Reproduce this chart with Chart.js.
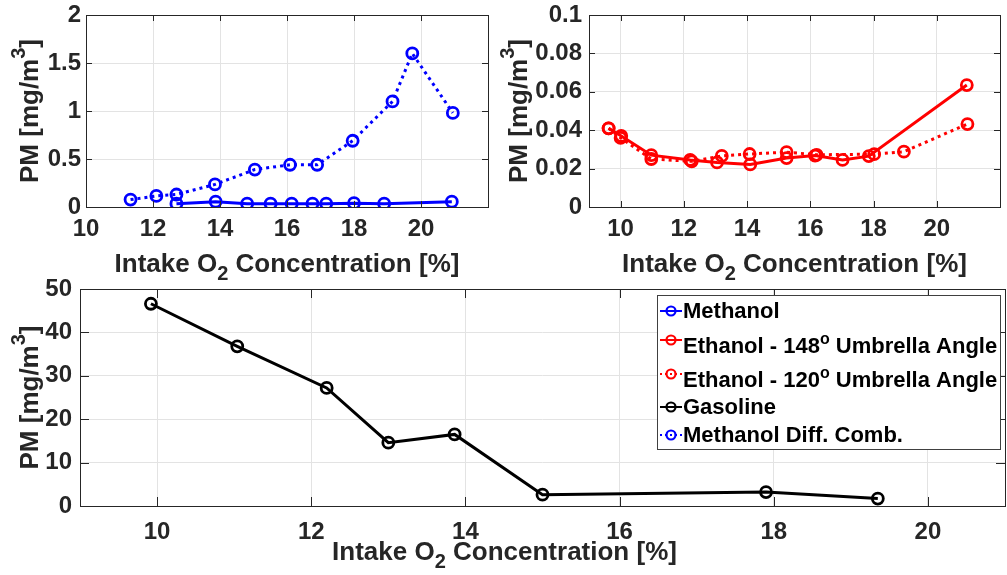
<!DOCTYPE html>
<html>
<head>
<meta charset="utf-8">
<title>PM vs intake O2 concentration</title>
<script src="https://cdn.jsdelivr.net/npm/chart.js@4.4.1/dist/chart.umd.min.js"></script>
<style>
  body { margin: 0; background: #fff; overflow: hidden; }
  .pane { position: absolute; }
  .pane canvas { display: block; }
</style>
</head>
<body>
<div class="pane" style="left:0;top:0"><canvas id="pmMethanol" width="495" height="290"></canvas></div>
<div class="pane" style="left:495px;top:0"><canvas id="pmEthanol" width="512" height="290"></canvas></div>
<div class="pane" style="left:0;top:265px"><canvas id="pmGasoline" width="1007" height="310"></canvas></div>
<script>
// values
const methanolO2 = [12.7, 13.87, 14.81, 15.51, 16.14, 16.76, 17.17, 18.0, 18.9, 20.92];
const methanolPM = [0.035, 0.055, 0.035, 0.035, 0.035, 0.035, 0.035, 0.04, 0.035, 0.055];

const methDiffO2 = [11.33, 12.1, 12.7, 13.85, 15.04, 16.09, 16.9, 17.96, 19.15, 19.74, 20.95];
const methDiffPM = [0.077, 0.115, 0.13, 0.235, 0.39, 0.44, 0.44, 0.69, 1.10, 1.60, 0.98];

const eth148O2 = [9.62, 10.02, 10.97, 12.2, 13.05, 14.1, 15.25, 16.15, 17.02, 17.85, 20.95];
const eth148PM = [0.041, 0.037, 0.027, 0.0245, 0.0232, 0.0222, 0.0255, 0.0268, 0.0245, 0.0265, 0.0635];

const eth120O2 = [9.62, 10.0, 10.97, 12.25, 13.2, 14.08, 15.25, 16.2, 18.02, 18.96, 20.97];
const eth120PM = [0.041, 0.036, 0.025, 0.0238, 0.0266, 0.0276, 0.0286, 0.0272, 0.0275, 0.0288, 0.0432];

const gasolineO2 = [9.92, 11.04, 12.2, 13.0, 13.86, 15.0, 17.9, 19.35];
const gasolinePM = [46.6, 36.8, 27.2, 14.6, 16.5, 2.6, 3.2, 1.7];

const xTicks = [10, 12, 14, 16, 18, 20];
const yTicksMethanol = [0, 0.5, 1, 1.5, 2];
const yTicksEthanol = [0, 0.02, 0.04, 0.06, 0.08, 0.1];
const yTicksGasoline = [0, 10, 20, 30, 40, 50];

// title / legend text, [text, baseline shift] pieces
const xTitle = [['Intake O', 0], ['2', 8], [' Concentration [%]', 0]];
const yTitle = [['PM [mg/m', 0], ['3', -13], [']', 0]];
const legendLabels = [
  [['Methanol', 0]],
  [['Ethanol - 148', 0], ['o', -9], [' Umbrella Angle', 0]],
  [['Ethanol - 120', 0], ['o', -9], [' Umbrella Angle', 0]],
  [['Gasoline', 0]],
  [['Methanol Diff. Comb.', 0]]
];

const FONT = '"Liberation Sans", Arial, Helvetica, sans-serif';
const INK = '#262626';
const BLUE = '#0000ff', RED = '#ff0000', BLACK = '#000000';

function series(label, xs, ys, color, dotted) {
  return {
    label: label,
    data: xs.map((x, i) => ({ x: x, y: ys[i] })),
    borderColor: color,
    borderWidth: 3,
    borderDash: dotted ? [3, 4] : [],
    pointRadius: 5.5,
    pointBorderWidth: 2.8,
    pointBorderColor: color,
    pointBackgroundColor: 'rgba(0,0,0,0)',
    fill: false,
    tension: 0
  };
}

function drawParts(ctx, parts, x, y, size, small) {
  const font = s => 'bold ' + s + 'px ' + FONT;
  let w = 0;
  parts.forEach(p => { ctx.font = font(p[1] ? small : size); w += ctx.measureText(p[0]).width; });
  let cx = x - w / 2;
  ctx.textAlign = 'left';
  ctx.textBaseline = 'alphabetic';
  parts.forEach(p => {
    ctx.font = font(p[1] ? small : size);
    ctx.fillText(p[0], cx, y + p[1]);
    cx += ctx.measureText(p[0]).width;
  });
  return w;
}

// matlab style box with inward ticks
const axesBox = {
  id: 'axesBox',
  afterDraw(chart, args, opts) {
    const { ctx, chartArea: a, scales } = chart;
    const len = opts.tickLen;
    ctx.save();
    ctx.strokeStyle = INK;
    ctx.lineWidth = 1;
    ctx.strokeRect(Math.round(a.left) + 0.5, Math.round(a.top) + 0.5, Math.round(a.right - a.left), Math.round(a.bottom - a.top));
    ctx.beginPath();
    scales.x.ticks.forEach(t => {
      const px = Math.round(scales.x.getPixelForValue(t.value)) + 0.5;
      ctx.moveTo(px, a.bottom); ctx.lineTo(px, a.bottom - len);
      ctx.moveTo(px, a.top); ctx.lineTo(px, a.top + len);
    });
    scales.y.ticks.forEach(t => {
      const py = Math.round(scales.y.getPixelForValue(t.value)) + 0.5;
      ctx.moveTo(a.left, py); ctx.lineTo(a.left + len, py);
      ctx.moveTo(a.right, py); ctx.lineTo(a.right - len, py);
    });
    ctx.stroke();
    ctx.restore();
  }
};

const richTitles = {
  id: 'richTitles',
  afterDraw(chart, args, o) {
    const { ctx, chartArea: a } = chart;
    ctx.save();
    ctx.fillStyle = INK;
    drawParts(ctx, xTitle, (a.left + a.right) / 2 + o.xShift, a.bottom + o.xGap, 26, 20);
    ctx.translate(a.left - o.yGap, (a.top + a.bottom) / 2);
    ctx.rotate(-Math.PI / 2);
    drawParts(ctx, yTitle, 0, 0, 26, 20);
    ctx.restore();
  }
};

const seriesLegend = {
  id: 'seriesLegend',
  afterDraw(chart, args, o) {
    const { ctx, chartArea: a } = chart;
    const left = a.right - 348, top = a.top + 6, w = 343, h = 154;
    const rows = [23, 58, 92, 119, 147];
    ctx.save();
    ctx.fillStyle = '#fff';
    ctx.fillRect(left, top, w, h);
    ctx.strokeStyle = '#404040';
    ctx.lineWidth = 1;
    ctx.strokeRect(left + 0.5, top + 0.5, w, h);
    o.items.forEach((it, i) => {
      const base = top + rows[i];
      const my = base - (legendLabels[i].length > 1 ? 13 : 7);
      ctx.strokeStyle = it.color;
      ctx.lineWidth = 2;
      ctx.setLineDash(it.dotted ? [2, 3] : []);
      ctx.beginPath(); ctx.moveTo(left + 3, my); ctx.lineTo(left + 25, my); ctx.stroke();
      ctx.setLineDash([]);
      ctx.lineWidth = 2.2;
      ctx.beginPath(); ctx.arc(left + 14, my, 4.5, 0, Math.PI * 2); ctx.stroke();
      ctx.fillStyle = '#000';
      const parts = legendLabels[i];
      let wsum = 0;
      parts.forEach(p => { ctx.font = 'bold ' + (p[1] ? 16 : 22) + 'px ' + FONT; wsum += ctx.measureText(p[0]).width; });
      drawParts(ctx, parts, left + 26 + wsum / 2, base, 22, 16);
    });
    ctx.restore();
  }
};

function makeChart(id, datasets, cfg) {
  return new Chart(document.getElementById(id), {
    type: 'line',
    data: { datasets: datasets },
    options: {
      responsive: false,
      animation: false,
      layout: { autoPadding: false, padding: { top: cfg.padTop, right: cfg.padRight, left: 0, bottom: 0 } },
      plugins: {
        legend: { display: false },
        tooltip: { enabled: false },
        axesBox: { tickLen: cfg.tickLen },
        richTitles: cfg.titles,
        seriesLegend: cfg.legend || { items: [] }
      },
      scales: {
        x: {
          type: 'linear',
          min: cfg.xMin, max: cfg.xMax,
          afterBuildTicks: s => { s.ticks = xTicks.map(v => ({ value: v })); },
          afterFit: s => { s.height = cfg.xHeight; s.paddingLeft = 0; s.paddingRight = 0; },
          grid: { color: '#e3e3e3', drawTicks: false },
          border: { display: false },
          ticks: { color: INK, font: { family: FONT, size: 24, weight: 'bold' }, padding: cfg.xPad, maxRotation: 0 }
        },
        y: {
          type: 'linear',
          min: cfg.yTicks[0], max: cfg.yTicks[cfg.yTicks.length - 1],
          afterBuildTicks: s => { s.ticks = cfg.yTicks.map(v => ({ value: v })); },
          afterFit: s => { s.width = cfg.yWidth; s.paddingTop = 0; s.paddingBottom = 0; },
          grid: { color: '#e3e3e3', drawTicks: false },
          border: { display: false },
          ticks: { color: INK, font: { family: FONT, size: 24, weight: 'bold' }, padding: cfg.yPad, callback: v => String(v) }
        }
      }
    },
    plugins: cfg.legend ? [axesBox, richTitles, seriesLegend] : [axesBox, richTitles]
  });
}

makeChart('pmMethanol', [
  series('Methanol', methanolO2, methanolPM, BLUE, false),
  series('Methanol Diff. Comb.', methDiffO2, methDiffPM, BLUE, true)
], {
  xMin: 10, xMax: 22, yTicks: yTicksMethanol,
  padTop: 15, padRight: 7, xHeight: 83, yWidth: 86, xPad: 8, yPad: 5, tickLen: 6,
  titles: { xShift: 0, xGap: 65, yGap: 48 }
});

makeChart('pmEthanol', [
  series('Ethanol - 148 Umbrella Angle', eth148O2, eth148PM, RED, false),
  series('Ethanol - 120 Umbrella Angle', eth120O2, eth120PM, RED, true)
], {
  xMin: 9, xMax: 22, yTicks: yTicksEthanol,
  padTop: 15, padRight: 7, xHeight: 83, yWidth: 94, xPad: 8, yPad: 7, tickLen: 6,
  titles: { xShift: 0, xGap: 65, yGap: 62 }
});

makeChart('pmGasoline', [
  series('Gasoline', gasolineO2, gasolinePM, BLACK, false)
], {
  xMin: 9, xMax: 21, yTicks: yTicksGasoline,
  padTop: 24, padRight: 2, xHeight: 69, yWidth: 80, xPad: 12, yPad: 8, tickLen: 9,
  titles: { xShift: -38, xGap: 54, yGap: 42 },
  legend: { items: [
    { color: BLUE, dotted: false },
    { color: RED, dotted: false },
    { color: RED, dotted: true },
    { color: BLACK, dotted: false },
    { color: BLUE, dotted: true }
  ] }
});
</script>
</body>
</html>
